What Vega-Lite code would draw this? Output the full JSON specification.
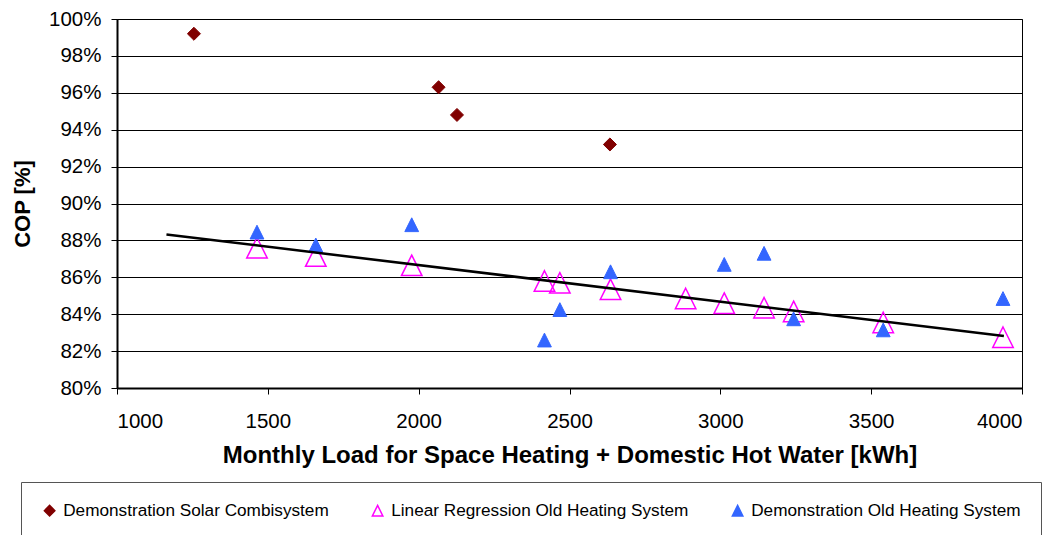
{
  "$schema": "https://vega.github.io/schema/vega-lite/v6.json",
  "width": 905,
  "height": 369,
  "autosize": {"type": "none"},
  "padding": {"left": 117, "top": 19, "right": 26, "bottom": 147},
  "background": "white",
  "config": {
    "font": "Liberation Sans",
    "view": {"stroke": "black", "strokeWidth": 1},
    "axis": {
      "domainColor": "black",
      "domainWidth": 2,
      "tickColor": "black",
      "tickWidth": 1,
      "tickSize": 6,
      "gridColor": "black",
      "gridOpacity": 1,
      "gridWidth": 1,
      "labelColor": "black",
      "labelFont": "Liberation Sans",
      "labelFontSize": 20.5,
      "labelOverlap": false,
      "titleColor": "black",
      "titleFont": "Liberation Sans",
      "titleFontWeight": "bold"
    },
    "legend": {
      "orient": "none",
      "legendX": -96,
      "legendY": 463,
      "direction": "horizontal",
      "padding": 20,
      "strokeColor": "#555555",
      "columnPadding": 40,
      "labelOffset": 5,
      "symbolSize": 110,
      "symbolStrokeWidth": 1.5,
      "labelFont": "Liberation Sans",
      "labelFontSize": 17.2,
      "labelColor": "black",
      "labelLimit": 400
    }
  },
  "datasets": {
    "solar": [
      {"series": "Demonstration Solar Combisystem", "load": 1255, "cop": 99.2},
      {"series": "Demonstration Solar Combisystem", "load": 2066, "cop": 96.3},
      {"series": "Demonstration Solar Combisystem", "load": 2127, "cop": 94.8},
      {"series": "Demonstration Solar Combisystem", "load": 2634, "cop": 93.2}
    ],
    "regression": [
      {"series": "Linear Regression Old Heating System", "load": 1464, "cop": 87.6},
      {"series": "Linear Regression Old Heating System", "load": 1659, "cop": 87.15},
      {"series": "Linear Regression Old Heating System", "load": 1977, "cop": 86.65},
      {"series": "Linear Regression Old Heating System", "load": 2417, "cop": 85.8},
      {"series": "Linear Regression Old Heating System", "load": 2468, "cop": 85.7},
      {"series": "Linear Regression Old Heating System", "load": 2636, "cop": 85.35},
      {"series": "Linear Regression Old Heating System", "load": 2885, "cop": 84.85},
      {"series": "Linear Regression Old Heating System", "load": 3013, "cop": 84.6},
      {"series": "Linear Regression Old Heating System", "load": 3145, "cop": 84.35},
      {"series": "Linear Regression Old Heating System", "load": 3243, "cop": 84.15},
      {"series": "Linear Regression Old Heating System", "load": 3540, "cop": 83.55},
      {"series": "Linear Regression Old Heating System", "load": 3937, "cop": 82.75}
    ],
    "old": [
      {"series": "Demonstration Old Heating System", "load": 1464, "cop": 88.45},
      {"series": "Demonstration Old Heating System", "load": 1659, "cop": 87.75},
      {"series": "Demonstration Old Heating System", "load": 1977, "cop": 88.85},
      {"series": "Demonstration Old Heating System", "load": 2417, "cop": 82.6},
      {"series": "Demonstration Old Heating System", "load": 2468, "cop": 84.25},
      {"series": "Demonstration Old Heating System", "load": 2636, "cop": 86.3},
      {"series": "Demonstration Old Heating System", "load": 3013, "cop": 86.7},
      {"series": "Demonstration Old Heating System", "load": 3145, "cop": 87.3},
      {"series": "Demonstration Old Heating System", "load": 3243, "cop": 83.75},
      {"series": "Demonstration Old Heating System", "load": 3540, "cop": 83.15},
      {"series": "Demonstration Old Heating System", "load": 3937, "cop": 84.85}
    ],
    "trend": [
      {"load": 1164, "cop": 88.32},
      {"load": 3940, "cop": 82.82}
    ]
  },
  "encoding": {
    "x": {
      "field": "load",
      "type": "quantitative",
      "scale": {"domain": [1000, 4000], "nice": false, "zero": false},
      "axis": {
        "values": [1000, 1500, 2000, 2500, 3000, 3500, 4000],
        "format": "d",
        "grid": false,
        "labelPadding": 17,
        "title": "Monthly Load for Space Heating + Domestic Hot Water [kWh]",
        "titleFontSize": 24,
        "titlePadding": 12
      }
    },
    "y": {
      "field": "cop",
      "type": "quantitative",
      "scale": {"domain": [80, 100], "nice": false, "zero": false},
      "axis": {
        "values": [80, 82, 84, 86, 88, 90, 92, 94, 96, 98, 100],
        "labelExpr": "datum.value + '%'",
        "labelPadding": 10,
        "title": "COP [%]",
        "titleFontSize": 22,
        "titlePadding": 14
      }
    }
  },
  "layer": [
    {
      "encoding": {
        "fill": {
          "field": "series",
          "type": "nominal",
          "scale": {
            "domain": ["Demonstration Solar Combisystem", "Linear Regression Old Heating System", "Demonstration Old Heating System"],
            "range": ["#800000", "transparent", "#3366FF"]
          },
          "legend": {"title": null}
        },
        "stroke": {
          "field": "series",
          "type": "nominal",
          "scale": {
            "domain": ["Demonstration Solar Combisystem", "Linear Regression Old Heating System", "Demonstration Old Heating System"],
            "range": ["#800000", "#FF00FF", "#3366FF"]
          },
          "legend": {"title": null}
        },
        "shape": {
          "field": "series",
          "type": "nominal",
          "scale": {
            "domain": ["Demonstration Solar Combisystem", "Linear Regression Old Heating System", "Demonstration Old Heating System"],
            "range": ["diamond", "M0,-1L1,1L-1,1Z", "M0,-1L1,1L-1,1Z"]
          },
          "legend": {"title": null}
        }
      },
      "layer": [
        {
          "data": {"name": "solar"},
          "mark": {"type": "point", "filled": false, "strokeWidth": 1, "opacity": 1, "size": 170}
        },
        {
          "data": {"name": "regression"},
          "mark": {"type": "point", "filled": false, "strokeWidth": 1.5, "opacity": 1, "size": 420}
        },
        {
          "data": {"name": "old"},
          "mark": {"type": "point", "filled": false, "strokeWidth": 1, "opacity": 1, "size": 190}
        }
      ]
    },
    {
      "data": {"name": "trend"},
      "mark": {"type": "line", "color": "black", "strokeWidth": 2.5}
    }
  ]
}
